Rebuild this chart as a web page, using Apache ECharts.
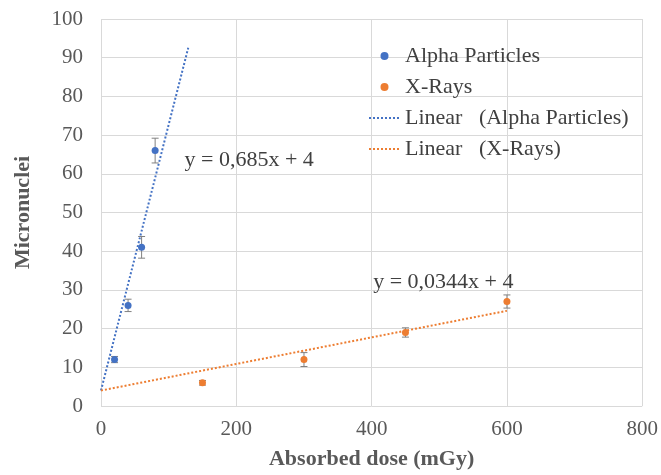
<!DOCTYPE html>
<html>
<head>
<meta charset="utf-8">
<script src="https://cdn.jsdelivr.net/npm/echarts@6/dist/echarts.min.js"></script>
<style>
  html, body { margin: 0; padding: 0; background: #fff; }
  #chart { width: 661px; height: 475px; }
</style>
</head>
<body>
<div id="chart"></div>
<script>
// measured points (dose in mGy, micronuclei count, error)
const alphaDose = [20, 40, 60, 80];
const alphaMN = [12, 26, 41, 66];
const alphaErr = [0.8, 1.6, 2.8, 3.2];

const xrayDose = [150, 300, 450, 600];
const xrayMN = [6, 12, 19, 27];
const xrayErr = [0.6, 1.8, 1.2, 1.7];

// trend line end points
const alphaTrend = [[0, 4], [129, 92.6]];
const xrayTrend = [[0, 4], [600, 24.6]];

const alphaEq = 'y = 0,685x + 4';
const xrayEq = 'y = 0,0344x + 4';

const BLUE = '#4472C4';
const ORANGE = '#ED7D31';
const FONT = 'Liberation Serif';

const chart = echarts.init(document.getElementById('chart'));

function pairs(xs, ys) {
    return xs.map((x, i) => [x, ys[i]]);
}

function errData(xs, ys, es) {
    return xs.map((x, i) => [x, ys[i] - es[i], ys[i] + es[i]]);
}

// draws the vertical error bar with caps
function renderErr(params, api) {
    const lo = api.coord([api.value(0), api.value(1)]);
    const hi = api.coord([api.value(0), api.value(2)]);
    const cap = 3.5;
    const style = { stroke: '#808080', lineWidth: 1 };
    return {
        type: 'group',
        children: [
            { type: 'line', shape: { x1: lo[0], y1: lo[1], x2: hi[0], y2: hi[1] }, style: style },
            { type: 'line', shape: { x1: lo[0] - cap, y1: lo[1], x2: lo[0] + cap, y2: lo[1] }, style: style },
            { type: 'line', shape: { x1: hi[0] - cap, y1: hi[1], x2: hi[0] + cap, y2: hi[1] }, style: style }
        ]
    };
}

const option = {
    animation: false,
    textStyle: { fontFamily: FONT },
    grid: { left: 101, right: 15, top: 19, bottom: 67 },
    legend: {
        orient: 'vertical',
        left: 363,
        top: 40,
        itemWidth: 31,
        itemHeight: 8,
        itemGap: 9,
        textStyle: { fontFamily: FONT, fontSize: 22, color: '#404040' },
        data: [
            { name: 'Alpha Particles', icon: 'circle' },
            { name: 'X-Rays', icon: 'circle' },
            { name: 'Linear   (Alpha Particles)', itemStyle: { opacity: 0 } },
            { name: 'Linear   (X-Rays)', itemStyle: { opacity: 0 } }
        ]
    },
    xAxis: {
        type: 'value',
        min: 0,
        max: 800,
        interval: 200,
        name: 'Absorbed dose (mGy)',
        nameLocation: 'middle',
        nameGap: 42,
        nameTextStyle: { fontFamily: FONT, fontSize: 22, fontWeight: 'bold', color: '#595959' },
        axisLine: { show: false },
        axisTick: { show: false },
        axisLabel: { fontFamily: FONT, fontSize: 21, color: '#595959', margin: 13 },
        splitLine: { show: true, lineStyle: { color: '#d9d9d9' } }
    },
    yAxis: {
        type: 'value',
        min: 0,
        max: 100,
        interval: 10,
        name: 'Micronuclei',
        nameLocation: 'middle',
        nameGap: 67,
        nameTextStyle: { fontFamily: FONT, fontSize: 22, fontWeight: 'bold', color: '#595959' },
        axisLine: { show: false },
        axisTick: { show: false },
        axisLabel: { fontFamily: FONT, fontSize: 21, color: '#595959', margin: 18 },
        splitLine: { show: true, lineStyle: { color: '#d9d9d9' } }
    },
    series: [
        {
            name: 'Linear   (Alpha Particles)',
            type: 'line',
            data: alphaTrend,
            symbol: 'none',
            lineStyle: { color: BLUE, width: 2, type: [2, 2] },
            itemStyle: { color: BLUE },
            z: 2,
            markPoint: {
                symbol: 'circle',
                symbolSize: 0,
                label: { show: true, formatter: alphaEq, fontFamily: FONT, fontSize: 22, color: '#404040' },
                data: [{ coord: [219, 63.4] }]
            }
        },
        {
            name: 'Linear   (X-Rays)',
            type: 'line',
            data: xrayTrend,
            symbol: 'none',
            lineStyle: { color: ORANGE, width: 2, type: [2, 2] },
            itemStyle: { color: ORANGE },
            z: 2,
            markPoint: {
                symbol: 'circle',
                symbolSize: 0,
                label: { show: true, formatter: xrayEq, fontFamily: FONT, fontSize: 22, color: '#404040' },
                data: [{ coord: [506, 32] }]
            }
        },
        {
            type: 'custom',
            renderItem: renderErr,
            data: errData(alphaDose, alphaMN, alphaErr),
            encode: { x: 0, y: [1, 2] },
            z: 3,
            silent: true
        },
        {
            type: 'custom',
            renderItem: renderErr,
            data: errData(xrayDose, xrayMN, xrayErr),
            encode: { x: 0, y: [1, 2] },
            z: 3,
            silent: true
        },
        {
            name: 'Alpha Particles',
            type: 'scatter',
            data: pairs(alphaDose, alphaMN),
            symbolSize: 7,
            itemStyle: { color: BLUE, opacity: 1 },
            z: 4
        },
        {
            name: 'X-Rays',
            type: 'scatter',
            data: pairs(xrayDose, xrayMN),
            symbolSize: 7,
            itemStyle: { color: ORANGE, opacity: 1 },
            z: 4
        }
    ]
};

chart.setOption(option);
</script>
</body>
</html>
